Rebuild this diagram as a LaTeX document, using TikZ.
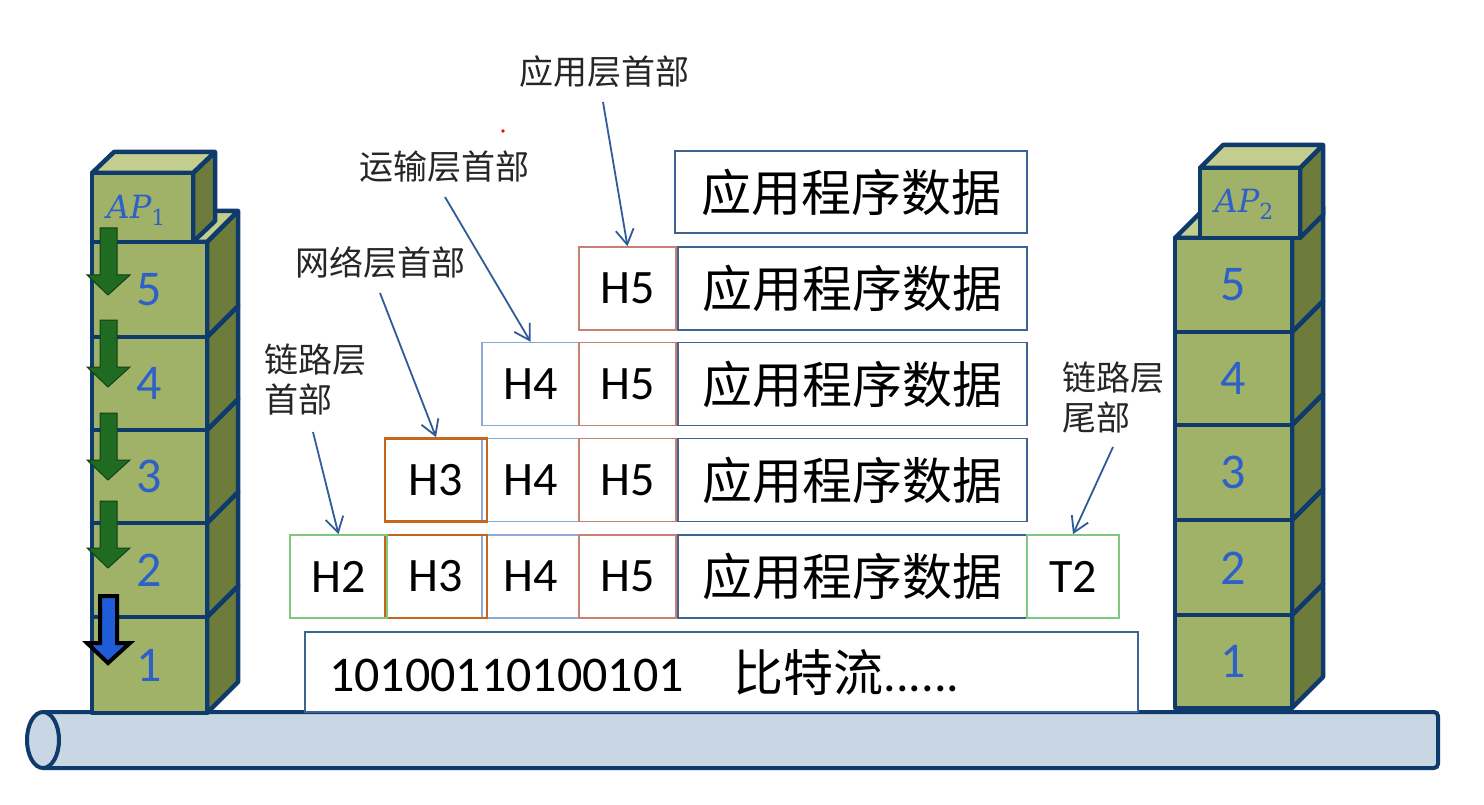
\documentclass[tikz,border=0pt]{standalone}
\usepackage{fontspec}
\setmainfont{Carlito}
\newfontfamily\cjk{Noto Sans CJK SC}
\newfontfamily\apfont{DejaVu Serif}
\usetikzlibrary{arrows.meta}
\definecolor{navy}{HTML}{0F3A6C}
\definecolor{frontc}{HTML}{A0B168}
\definecolor{sidec}{HTML}{6D7C3B}
\definecolor{topc}{HTML}{C3CE8E}
\definecolor{pipec}{HTML}{C9D6E4}
\definecolor{numc}{HTML}{2E60CA}
\definecolor{databd}{HTML}{3D6394}
\definecolor{hfivebd}{HTML}{C98070}
\definecolor{hfourbd}{HTML}{8EA9D6}
\definecolor{hthreebd}{HTML}{C5661E}
\definecolor{htwobd}{HTML}{80C880}
\definecolor{arrc}{HTML}{2F5B98}
\definecolor{garrow}{HTML}{1F6B22}
\definecolor{barrow}{HTML}{1F5CD8}
% cube: #1 x left, #2 x right, #3 y top, #4 y bottom, #5 dx, #6 dy
\newcommand{\mycube}[6]{%
  \filldraw[face, fill=sidec] (#2,#4) -- (#2,#3) -- ++(#5,-#6) -- (#2+#5,#4-#6) -- cycle;
  \filldraw[face, fill=topc] (#1,#3) -- ++(#5,-#6) -- (#2+#5,#3-#6) -- (#2,#3) -- cycle;
  \filldraw[face, fill=frontc] (#1,#3) rectangle (#2,#4);}
% down arrow: #1 tip y, #2 style
\newcommand{\downarr}[2]{%
  \filldraw[#2] (100,#1-67) -- (117,#1-67) -- (117,#1-20) -- (130,#1-20) -- (108,#1)
    -- (87,#1-20) -- (100,#1-20) -- cycle;}
\newcommand{\aplabel}[1]{{\itshape AP}\raisebox{-7pt}{\fontsize{22}{22}\selectfont #1}}
\tikzset{
  face/.style={draw=navy, line width=4.5pt, line join=round},
  num/.style={font=\fontsize{50}{50}\selectfont, text=numc, inner sep=0pt},
  aptext/.style={font=\apfont\fontsize{32}{32}\selectfont, text=numc, inner sep=0pt},
  pkt/.style={draw, line width=1.8pt, inner sep=0pt, minimum height=83pt,
    font=\fontsize{48}{48}\selectfont},
  dbox/.style={pkt, draw=databd, minimum width=349pt, font=\cjk\fontsize{50}{50}\selectfont},
  hfive/.style={pkt, draw=hfivebd, line width=1.5pt, minimum width=97pt},
  hfour/.style={pkt, draw=hfourbd, line width=1.5pt, minimum width=97pt},
  hthree/.style={pkt, draw=hthreebd, line width=2.6pt, minimum width=102pt},
  htwo/.style={pkt, draw=htwobd, line width=1.8pt, minimum width=97pt},
  ttwo/.style={pkt, draw=htwobd, line width=1.8pt, minimum width=92pt},
  lbl/.style={font=\cjk\fontsize{34}{40}\selectfont, text=black!85, inner sep=0pt},
  larr/.style={draw=arrc, line width=1.8pt, -{Straight Barb[length=15pt,width=18pt,line width=1.8pt]}},
  garr/.style={fill=garrow, draw=garrow!60!black, line width=1pt, line join=miter},
  barr/.style={fill=barrow, draw=black, line width=4pt, line join=miter},
}
\begin{document}
\begin{tikzpicture}[x=1pt,y=-1pt]
\useasboundingbox (0,0) rectangle (1484,805);
% pipe
\filldraw[fill=pipec, draw=navy, line width=4pt, rounded corners=4pt]
  (43,712) -- (1438,712) -- (1438,768) -- (43,768);
\filldraw[fill=pipec, draw=navy, line width=4pt] (43,740) ellipse [x radius=16, y radius=28];
% bit stream
\node[draw=databd, line width=2.4pt, fill=white, minimum width=833pt, minimum height=80pt,
  inner xsep=24pt, inner ysep=0pt, text width=785pt, align=left,
  font=\fontsize{50}{50}\selectfont] (bits) at (721.5,672)
  {10100110100101\hspace{50pt}{\cjk 比特流}......};
% left stack
\mycube{92}{207}{617}{713}{31}{31}
\mycube{92}{207}{523}{617}{31}{31}
\mycube{92}{207}{430}{523}{31}{31}
\mycube{92}{207}{337}{430}{31}{31}
\mycube{92}{207}{242}{337}{31}{31}
\mycube{92}{193}{173}{242}{22}{21}
\node[aptext] (ap1) at (136,210) {\aplabel{1}};
\node[num] (l1) at (149,665) {1};
\node[num] (l2) at (149,570) {2};
\node[num] (l3) at (149,476) {3};
\node[num] (l4) at (149,383) {4};
\node[num] (l5) at (149,290) {5};
\downarr{295}{garr}
\downarr{387}{garr}
\downarr{480}{garr}
\downarr{568}{garr}
\downarr{663}{barr}
% right stack
\mycube{1175}{1292}{615}{708}{31}{31}
\mycube{1175}{1292}{520}{615}{31}{31}
\mycube{1175}{1292}{425}{520}{31}{31}
\mycube{1175}{1292}{332}{425}{31}{31}
\mycube{1175}{1292}{238}{332}{31}{31}
\mycube{1200}{1300}{168}{238}{23}{23}
\node[aptext] (ap2) at (1244,204) {\aplabel{2}};
\node[num] (r1) at (1233,661) {1};
\node[num] (r2) at (1233,568) {2};
\node[num] (r3) at (1233,472) {3};
\node[num] (r4) at (1233,378) {4};
\node[num] (r5) at (1233,285) {5};
% packet rows
\node[dbox, minimum width=352pt, minimum height=82pt] (d0) at (851,192) {应用程序数据};
\node[hfive] (h5a) at (627.5,288.5) {H5};
\node[dbox] (d1) at (852.5,288.5) {应用程序数据};
\node[hfour] (h4b) at (530.5,384) {H4};
\node[hfive] (h5b) at (627.5,384) {H5};
\node[dbox] (d2) at (852.5,384) {应用程序数据};
\node[hfour] (h4c) at (530.5,480) {H4};
\node[hthree] (h3c) at (436,480) {H3};
\node[hfive] (h5c) at (627.5,480) {H5};
\node[dbox] (d3) at (852.5,480) {应用程序数据};
\node[hfour] (h4d) at (530.5,576.5) {H4};
\node[hthree] (h3d) at (436,576.5) {H3};
\node[htwo] (h2d) at (338.5,576.5) {H2};
\node[hfive] (h5d) at (627.5,576.5) {H5};
\node[dbox] (d4) at (852.5,576.5) {应用程序数据};
\node[ttwo] (t2d) at (1073,576.5) {T2};
% labels
\node[lbl] (lapp) at (604,72) {应用层首部};
\node[lbl] (ltrans) at (444,167) {运输层首部};
\node[lbl] (lnet) at (380,263) {网络层首部};
\node[lbl, align=left, anchor=west] (llinkh) at (264,380) {链路层\\首部};
\node[lbl, align=left, anchor=west] (llinkt) at (1062,397) {链路层\\尾部};
\coordinate (sA) at (603,102);
\coordinate (sT) at (445,197);
\coordinate (sN) at (380,293);
\coordinate (sLH) at (313,432);
\coordinate (sLT) at (1113,447);
\draw[larr] (sA) -- (h5a.north);
\draw[larr] (sT) -- (h4b.north);
\draw[larr] (sN) -- (h3c.north);
\draw[larr] (sLH) -- (h2d.north);
\draw[larr] (sLT) -- (t2d.north);
\fill[red] (503,131) circle (1.8pt);
\end{tikzpicture}
\end{document}
